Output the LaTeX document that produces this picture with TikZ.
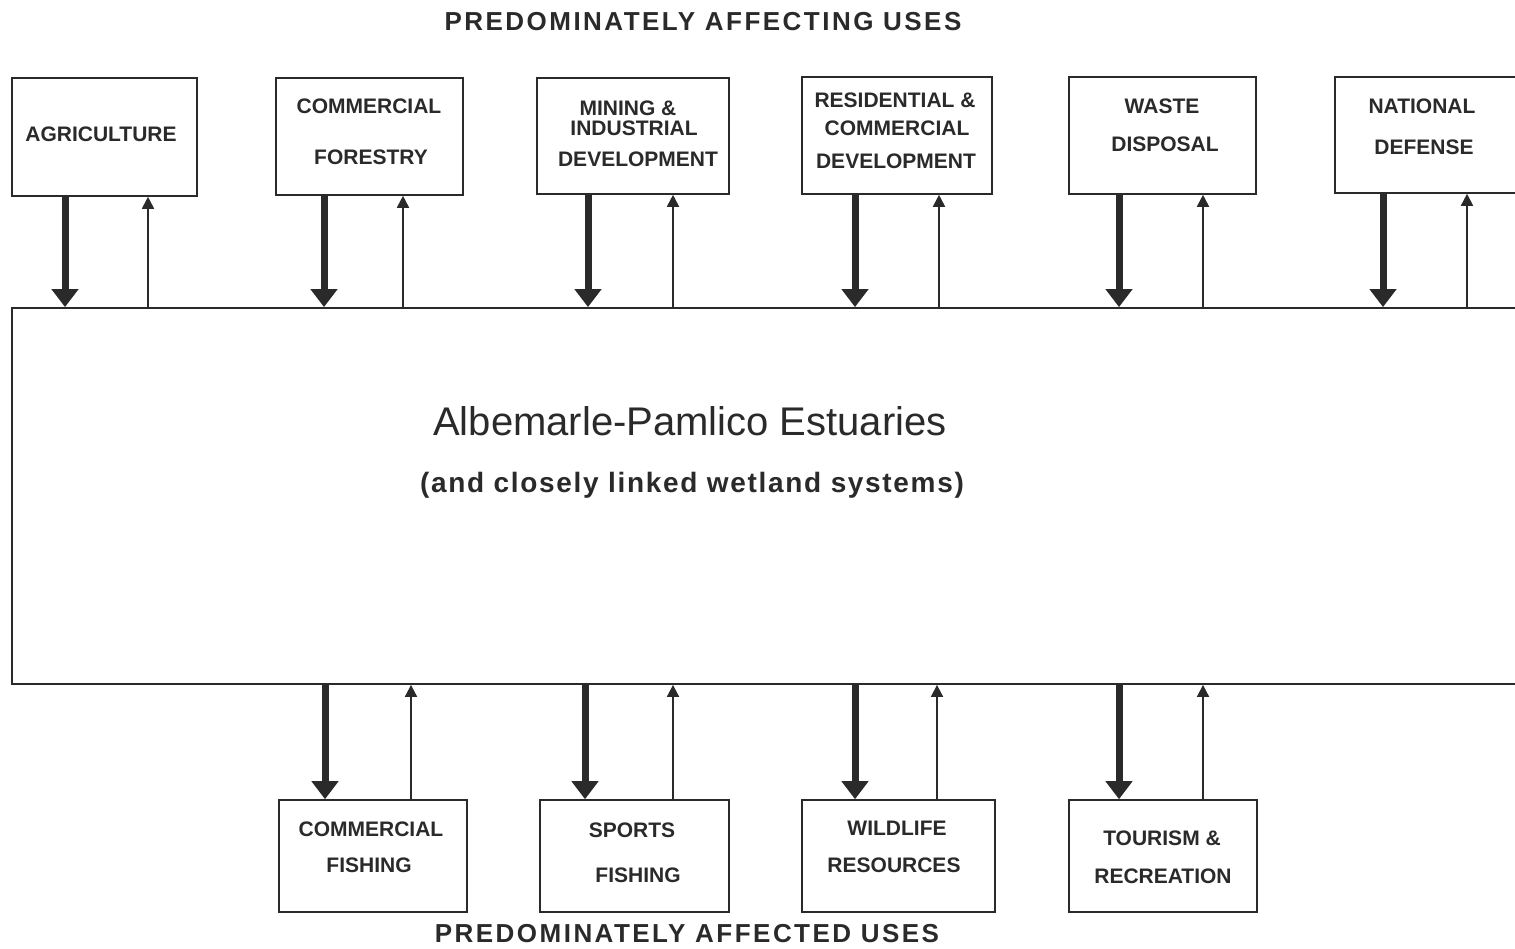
\documentclass[tikz,border=0pt]{standalone}
\usepackage{fontspec}
\setmainfont{Liberation Sans}
\usetikzlibrary{arrows.meta,calc}
\definecolor{ink}{HTML}{2A2A2A}
\begin{document}
\begin{tikzpicture}[x=0.5pt,y=-0.5pt,
  ubox/.style={draw=ink, line width=0.8pt, inner sep=0, fill=white},
  mainbox/.style={draw=ink, line width=0.9pt, inner sep=0},
  lbl/.style={font=\bfseries\fontsize{10.5}{12}\selectfont, text=ink, inner sep=0},
  ttl/.style={font=\bfseries\fontsize{13}{15}\selectfont\addfontfeature{LetterSpace=9.5}, text=ink, inner sep=0},
  bigtxt/.style={font=\fontsize{20}{24}\selectfont, text=ink, inner sep=0},
  subtxt/.style={font=\bfseries\fontsize{14}{16}\selectfont\addfontfeature{LetterSpace=6}, text=ink, inner sep=0},
  downarr/.style={draw=ink, line width=3.5pt, -{Triangle[width=13pt,length=9pt]}},
  uparr/.style={draw=ink, line width=0.9pt, -{Triangle[width=6pt,length=6pt]}}
]
\useasboundingbox (0,0) rectangle (1515,948);
\clip (0,0) rectangle (1515,948);
\fill[white] (0,0) rectangle (1515,948);

% titles
\node[ttl] (ttop) at (703,22) {PREDOMINATELY AFFECTING USES};
\node[ttl] (tbot) at (687,934) {PREDOMINATELY AFFECTED USES};

% main box
\node[mainbox, minimum width=756.5pt, minimum height=188pt] (main) at (768.5,496) {};
\node[bigtxt] (mt1) at (690,421) {Albemarle-Pamlico Estuaries};
\node[subtxt] (mt2) at (692,485) {(and closely linked wetland systems)};

% top boxes
\node[ubox, minimum width=92.5pt, minimum height=59pt] (agr) at (104.5,137) {};
\node[ubox, minimum width=93.5pt, minimum height=58.5pt] (for) at (369.5,136.5) {};
\node[ubox, minimum width=96pt, minimum height=58pt] (min) at (633,136) {};
\node[ubox, minimum width=95pt, minimum height=58.5pt] (res) at (897,135.5) {};
\node[ubox, minimum width=93.5pt, minimum height=58.5pt] (was) at (1162.5,135.5) {};
\node[ubox, minimum width=93.5pt, minimum height=58pt] (nat) at (1428.5,135) {};

\node[lbl] (agr1) at (101,134) {AGRICULTURE};
\node[lbl] (for1) at (369,106) {COMMERCIAL};
\node[lbl] (for2) at (371,157) {FORESTRY};
\node[lbl] (min1) at (628,108) {MINING \&};
\node[lbl] (min2) at (634,128) {INDUSTRIAL};
\node[lbl] (min3) at (638,159) {DEVELOPMENT};
\node[lbl] (res1) at (895,100) {RESIDENTIAL \&};
\node[lbl] (res2) at (897,128) {COMMERCIAL};
\node[lbl] (res3) at (896,161) {DEVELOPMENT};
\node[lbl] (was1) at (1162,106) {WASTE};
\node[lbl] (was2) at (1165,144) {DISPOSAL};
\node[lbl] (nat1) at (1422,106) {NATIONAL};
\node[lbl] (nat2) at (1424,147) {DEFENSE};

% bottom boxes
\node[ubox, minimum width=94pt, minimum height=56pt] (cfi) at (373,856) {};
\node[ubox, minimum width=94.5pt, minimum height=56pt] (spf) at (634.5,856) {};
\node[ubox, minimum width=96.5pt, minimum height=56pt] (wil) at (898.5,856) {};
\node[ubox, minimum width=94pt, minimum height=56pt] (tou) at (1163,856) {};

\node[lbl] (cfi1) at (371,829) {COMMERCIAL};
\node[lbl] (cfi2) at (369,865) {FISHING};
\node[lbl] (spf1) at (632,830) {SPORTS};
\node[lbl] (spf2) at (638,875) {FISHING};
\node[lbl] (wil1) at (897,828) {WILDLIFE};
\node[lbl] (wil2) at (894,865) {RESOURCES};
\node[lbl] (tou1) at (1162,838) {TOURISM \&};
\node[lbl] (tou2) at (1163,876) {RECREATION};

% top arrows
\foreach \n/\d/\u in {agr/-39.5/43.5, for/-45.5/33.5, min/-45/40, res/-42/42, was/-43.5/40.5, nat/-45.5/38.5}{
  \coordinate (\n-d) at ($(\n.south)+(\d,0)$);
  \coordinate (\n-u) at ($(\n.south)+(\u,0)$);
  \draw[downarr] (\n-d) -- (\n-d |- main.north);
  \draw[uparr] (\n-u |- main.north) -- (\n-u);
}
% bottom arrows
\foreach \n/\d/\u in {cfi/-48/38, spf/-49.5/38.5, wil/-43.5/38.5, tou/-44/40}{
  \coordinate (\n-d) at ($(\n.north)+(\d,0)$);
  \coordinate (\n-u) at ($(\n.north)+(\u,0)$);
  \draw[downarr] (\n-d |- main.south) -- (\n-d);
  \draw[uparr] (\n-u) -- (\n-u |- main.south);
}
\end{tikzpicture}
\end{document}
